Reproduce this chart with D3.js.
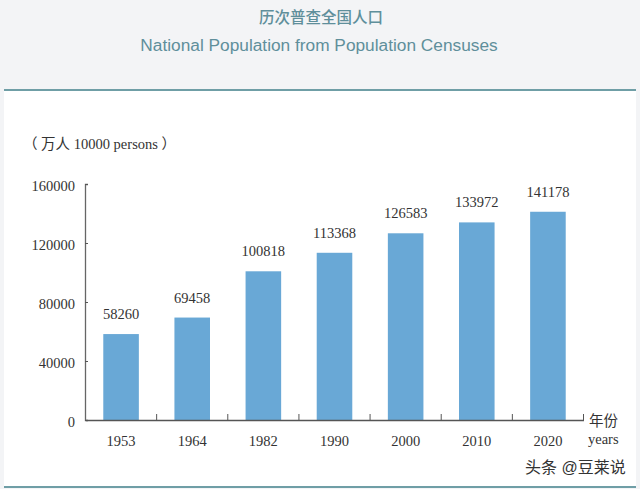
<!DOCTYPE html>
<html>
<head>
<meta charset="utf-8">
<script src="https://cdn.jsdelivr.net/npm/d3@7"></script>
<style>
html, body { margin: 0; padding: 0; background: #f3f4f6; }
svg { display: block; }
</style>
</head>
<body>
<div id="plot"></div>
<script>
var years = ['1953', '1964', '1982', '1990', '2000', '2010', '2020'];
var population = [58260, 69458, 100818, 113368, 126583, 133972, 141178];
var yTicks = [0, 40000, 80000, 120000, 160000];

var serif = '"Liberation Serif", "Noto Sans CJK SC", serif';
var sans = '"Liberation Sans", "Noto Sans CJK SC", sans-serif';
var ink = '#333';
var teal = '#6f9ea6';

var width = 640;
var height = 489;

var margin = {left: 85, top: 184, right: 57, bottom: 69};

var xScale = d3.scaleBand()
    .domain(years)
    .range([margin.left + 0.5, width - margin.right + 0.5])
    .paddingInner(0.5)
    .paddingOuter(0.25);

var yScale = d3.scaleLinear()
    .domain([0, 160000])
    .range([height - margin.bottom, margin.top]);

var svg = d3.select('#plot')
    .append('svg')
    .attr('width', width)
    .attr('height', height);

// white panel with the teal rules
svg.append('rect')
    .attr('x', 4).attr('y', 90)
    .attr('width', 632).attr('height', 397)
    .attr('fill', '#fff');

svg.append('line')
    .attr('x1', 4).attr('x2', 636)
    .attr('y1', 90).attr('y2', 90)
    .attr('stroke', teal).attr('stroke-width', 2);

svg.append('line')
    .attr('x1', 4).attr('x2', 636)
    .attr('y1', 487).attr('y2', 487)
    .attr('stroke', teal).attr('stroke-width', 2);

// titles
svg.append('text')
    .attr('x', 321).attr('y', 23)
    .attr('text-anchor', 'middle')
    .attr('font-family', sans)
    .attr('font-size', 15.5)
    .attr('font-weight', 500)
    .attr('fill', '#5f8f9b')
    .text('历次普查全国人口');

svg.append('text')
    .attr('x', 319).attr('y', 51)
    .attr('text-anchor', 'middle')
    .attr('font-family', sans)
    .attr('font-size', 17.3)
    .attr('fill', '#5f8f9b')
    .text('National Population from Population Censuses');

svg.append('text')
    .attr('x', 23).attr('y', 149)
    .attr('font-family', serif)
    .attr('font-size', 14.5)
    .attr('fill', ink)
    .text('（ 万人 10000 persons ）');

// bars
svg.append('g')
    .selectAll('rect')
    .data(years)
    .enter()
    .append('rect')
    .attr('x', d => xScale(d))
    .attr('y', (d, i) => yScale(population[i]))
    .attr('width', xScale.bandwidth())
    .attr('height', (d, i) => yScale(0) - yScale(population[i]))
    .attr('fill', '#69a8d6');

// value labels
svg.append('g')
    .selectAll('text')
    .data(years)
    .enter()
    .append('text')
    .attr('x', d => xScale(d) + xScale.bandwidth() / 2)
    .attr('y', (d, i) => yScale(population[i]) - 15)
    .attr('text-anchor', 'middle')
    .attr('font-family', serif)
    .attr('font-size', 14.5)
    .attr('fill', ink)
    .text((d, i) => population[i]);

// y axis
var yAxis = d3.axisLeft(yScale)
    .tickValues(yTicks)
    .tickFormat(d => d)
    .tickSize(-3)
    .tickPadding(10);

var gy = svg.append('g')
    .attr('transform', 'translate(' + margin.left + ',0)')
    .call(yAxis);

gy.select('.domain').attr('stroke', '#666').attr('stroke-width', 1.3);
gy.selectAll('.tick line').attr('stroke', '#555');
gy.selectAll('text')
    .attr('y', 2)
    .attr('font-family', serif)
    .attr('font-size', 14.5)
    .attr('fill', ink);

// x axis, ticks sit between the bars
var bandStep = xScale.step();

var xAxis = d3.axisBottom(xScale)
    .tickSize(0)
    .tickPadding(16);

var gx = svg.append('g')
    .attr('transform', 'translate(0,' + yScale(0) + ')')
    .call(xAxis);

gx.select('.domain').attr('stroke', '#555').attr('stroke-width', 1.3);
gx.selectAll('text')
    .attr('font-family', serif)
    .attr('font-size', 14.5)
    .attr('fill', ink);

gx.selectAll('.sep')
    .data(years)
    .enter()
    .append('line')
    .attr('class', 'sep')
    .attr('x1', d => xScale(d) + xScale.bandwidth() + bandStep * 0.25)
    .attr('x2', d => xScale(d) + xScale.bandwidth() + bandStep * 0.25)
    .attr('y1', 0)
    .attr('y2', -6)
    .attr('stroke', '#555');

svg.append('text')
    .attr('x', 589).attr('y', 426)
    .attr('font-family', serif)
    .attr('font-size', 14.5)
    .attr('fill', ink)
    .text('年份');

svg.append('text')
    .attr('x', 588).attr('y', 444)
    .attr('font-family', serif)
    .attr('font-size', 14.5)
    .attr('fill', ink)
    .text('years');

// source watermark
svg.append('text')
    .attr('x', 525).attr('y', 473)
    .attr('font-family', sans)
    .attr('font-size', 16)
    .attr('fill', '#333')
    .text('头条 @豆莱说');
</script>
</body>
</html>
